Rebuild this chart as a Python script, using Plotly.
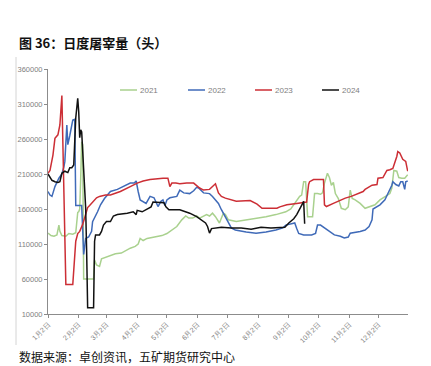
import plotly.graph_objects as go

# ---- data (day offset from 1月2日, head count) ----
days_2021 = [0, 3, 6, 9, 11, 12, 14, 18, 21, 25, 28, 30, 31, 32, 33, 34, 35, 36, 46, 47, 49, 52, 54, 56, 60, 63, 68, 74, 80, 83, 88, 91, 93, 96, 100, 105, 110, 115, 120, 123, 130, 135, 139, 142, 146, 150, 153, 160, 163, 166, 169, 173, 177, 179, 182, 190, 200, 210, 220, 230, 240, 245, 249, 251, 254, 256, 258, 260, 262, 267, 269, 272, 275, 277, 279, 282, 284, 286, 288, 289, 290, 293, 296, 300, 303, 305, 307, 310, 315, 320, 325, 330, 335, 340, 345, 347, 349, 352, 354, 357, 360, 363]
vals_2021 = [125500, 122000, 121000, 123000, 137000, 128000, 122000, 121000, 125000, 124000, 126000, 155000, 156000, 160000, 204000, 256000, 252000, 60000, 60000, 87000, 80000, 78000, 89000, 90000, 92000, 94600, 96000, 97000, 102000, 104000, 106500, 110000, 118000, 115000, 118000, 119000, 121000, 122000, 125000, 128000, 135000, 144500, 150000, 147000, 147000, 150000, 147000, 152000, 150000, 154000, 149000, 140000, 154000, 152000, 144500, 142000, 144000, 147000, 149000, 152000, 156000, 160000, 168000, 173000, 178000, 180000, 199000, 199000, 149000, 149000, 182000, 182000, 181000, 183000, 197000, 211000, 205000, 194000, 198000, 190000, 182000, 175000, 161000, 159000, 163000, 187000, 175000, 173000, 168000, 161000, 163000, 166000, 173000, 177000, 182000, 190000, 215000, 214000, 205000, 204000, 204000, 209000]

days_2022 = [0, 2, 4, 7, 11, 14, 16, 17, 19, 20, 22, 25, 27, 28, 34, 36, 38, 41, 44, 45, 50, 53, 57, 60, 63, 70, 76, 83, 87, 89, 91, 93, 99, 103, 107, 111, 114, 116, 118, 120, 123, 130, 133, 137, 143, 147, 150, 152, 157, 163, 166, 169, 172, 175, 179, 182, 185, 189, 200, 210, 220, 230, 237, 240, 244, 249, 251, 253, 258, 266, 270, 272, 275, 279, 284, 289, 295, 299, 303, 305, 315, 320, 324, 327, 328, 332, 335, 340, 344, 347, 348, 351, 354, 356, 358, 360, 361, 363]
vals_2022 = [185000, 180000, 178000, 192000, 204000, 210000, 220000, 228000, 280000, 252000, 265000, 287000, 288000, 165000, 165000, 95000, 118000, 120000, 128000, 142000, 156000, 166000, 175000, 180000, 185000, 188000, 192000, 197000, 197000, 200000, 185000, 173000, 168000, 178000, 176000, 163500, 171000, 173000, 165000, 173000, 176000, 178000, 187000, 183000, 182000, 186000, 191000, 190000, 183000, 182000, 178000, 173000, 168000, 159000, 149000, 140000, 133000, 130000, 127000, 125500, 127000, 130000, 133000, 137000, 138000, 140000, 132000, 125000, 123000, 123000, 125000, 137000, 137000, 133000, 128000, 123000, 121000, 118500, 120000, 125500, 128000, 130000, 135000, 144500, 160000, 163000, 166000, 173000, 184000, 194000, 199000, 195000, 193000, 199000, 199000, 188000, 199000, 200000]

days_2023 = [0, 2, 5, 7, 10, 12, 14, 18, 25, 28, 30, 32, 35, 37, 40, 42, 49, 52, 58, 63, 73, 83, 90, 96, 103, 116, 121, 123, 125, 129, 133, 140, 147, 153, 157, 163, 169, 172, 175, 179, 185, 190, 204, 211, 216, 231, 234, 241, 251, 258, 261, 263, 264, 268, 278, 279, 281, 288, 295, 300, 306, 315, 318, 320, 327, 332, 333, 338, 342, 345, 348, 352, 353, 355, 358, 361, 363]
vals_2023 = [211000, 215000, 237000, 261000, 266000, 280000, 322000, 52000, 52000, 114000, 125000, 128000, 138000, 147000, 162000, 165000, 176000, 178000, 180000, 180000, 185000, 192000, 197000, 200000, 202000, 204000, 204000, 192000, 197000, 197000, 196000, 197000, 197000, 190000, 187000, 188000, 196000, 183000, 178000, 175500, 173000, 171000, 172000, 167000, 161000, 161000, 163000, 166000, 168000, 169000, 170000, 195000, 199000, 202000, 202000, 166000, 163500, 168000, 173000, 175500, 178000, 182700, 185000, 188000, 194000, 195000, 204000, 205000, 215000, 216000, 218000, 235000, 242000, 240000, 231000, 228000, 214000]

days_2024 = [0, 2, 4, 7, 10, 12, 14, 17, 20, 22, 24, 26, 28, 30, 31, 32, 33, 34, 36, 38, 39, 40, 46, 47, 48, 52, 54, 56, 59, 63, 66, 70, 80, 86, 89, 90, 95, 100, 104, 106, 113, 117, 119, 122, 133, 143, 150, 155, 159, 161, 163, 165, 170, 175, 185, 195, 205, 215, 225, 239, 243, 248, 251, 254, 257, 258, 259]
vals_2024 = [210000, 205000, 201000, 199000, 198000, 199000, 211000, 214000, 212000, 219000, 219000, 223000, 290000, 318000, 299000, 262000, 273000, 270000, 219000, 162000, 99000, 19000, 19000, 114000, 123000, 123000, 128000, 137000, 142000, 142000, 150000, 152000, 154000, 156000, 152000, 158000, 156000, 160000, 163000, 170000, 170000, 169000, 163000, 159000, 159000, 154000, 149000, 144500, 140000, 135000, 125500, 132000, 132700, 134000, 133000, 133000, 131000, 134000, 133000, 134000, 140000, 146000, 152000, 159000, 168000, 171000, 139000]

series_names = ["2021", "2022", "2023", "2024"]
series_colors = ["#a9d18e", "#3f6ab8", "#cc2e35", "#111111"]

tick_days = [0, 31, 59, 90, 120, 151, 181, 212, 243, 273, 304, 334]
tick_labels = ["1月2日", "2月2日", "3月2日", "4月2日", "5月2日", "6月2日",
               "7月2日", "8月2日", "9月2日", "10月2日", "11月2日", "12月2日"]
y_ticks = [10000, 60000, 110000, 160000, 210000, 260000, 310000, 360000]

all_days = [days_2021, days_2022, days_2023, days_2024]
all_vals = [vals_2021, vals_2022, vals_2023, vals_2024]

fig = go.Figure()
for name, col, d, v in zip(series_names, series_colors, all_days, all_vals):
    fig.add_trace(go.Scatter(x=d, y=v, mode="lines", name=name,
                             line=dict(color=col, width=1.5), showlegend=False))

# the page body has an 8px margin, so the figure is offset by 8px
OFF = 8
W, H = 431 - OFF, 366 - OFF
L, T = 48 - OFF, 69 - OFF
R = W - (408 - OFF)
B = H - (314 - OFF)
pw, ph = W - L - R, H - T - B

def px(x):  # page pixel -> paper
    return (x - OFF - L) / pw

def py(y):  # page pixel -> paper
    return (H - B - (y - OFF)) / ph

shapes = []
annotations = []
# manual legend
leg_x = [120, 188, 255, 322]
for name, col, lx in zip(series_names, series_colors, leg_x):
    shapes.append(dict(type="line", xref="paper", yref="paper",
                       x0=px(lx), x1=px(lx + 17), y0=py(90), y1=py(90),
                       line=dict(color=col, width=1.5)))
    annotations.append(dict(text=name, xref="paper", yref="paper",
                            x=px(lx + 18), y=py(90), xanchor="left", yanchor="middle",
                            showarrow=False,
                            font=dict(size=8, color="#808080", family="Liberation Sans")))

# faint left frame line
shapes.append(dict(type="line", xref="paper", yref="paper",
                   x0=px(16), x1=px(16), y0=py(345), y1=py(57),
                   line=dict(color="#d4d4d4", width=1)))

annotations.append(dict(text="<b>图 36：日度屠宰量（头）</b>", xref="paper", yref="paper",
                        x=px(17), y=py(42), xanchor="left", yanchor="middle", showarrow=False,
                        font=dict(size=13, color="#111111", family="Noto Sans CJK SC")))
annotations.append(dict(text="数据来源：卓创资讯，五矿期货研究中心", xref="paper", yref="paper",
                        x=px(17), y=py(346), xanchor="left", yanchor="top", showarrow=False,
                        font=dict(size=12, color="#111111", family="Noto Sans CJK SC")))

fig.update_layout(
    width=W, height=H,
    margin=dict(l=L, r=R, t=T, b=B, pad=0, autoexpand=False),
    paper_bgcolor="white", plot_bgcolor="white",
    shapes=shapes, annotations=annotations,
    font=dict(family="Liberation Sans", color="#808080"),
)
fig.update_xaxes(range=[0, 363.3], tickmode="array", tickvals=tick_days, ticktext=tick_labels,
                 tickangle=-45, tickfont=dict(size=7, color="#808080"), automargin=False,
                 showgrid=False, zeroline=False, showline=True, linecolor="#8c8c8c", linewidth=1,
                 ticks="outside", ticklen=3, tickcolor="#8c8c8c")
fig.update_yaxes(range=[10000, 360000], tickmode="array", tickvals=y_ticks,
                 ticktext=[str(v) for v in y_ticks], automargin=False,
                 tickfont=dict(size=7.5, color="#808080"),
                 showgrid=False, zeroline=False, showline=True, linecolor="#8c8c8c", linewidth=1,
                 ticks="outside", ticklen=3, tickcolor="#8c8c8c")

fig.write_html("out.html")
